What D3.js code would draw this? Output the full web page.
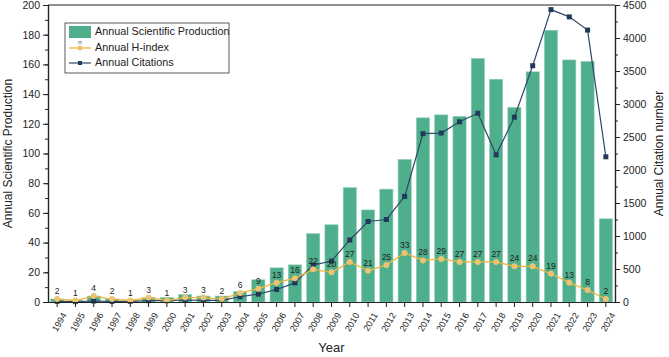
<!DOCTYPE html>
<html>
<head>
	<meta charset="utf-8">
	<title>Annual production</title>
	<script src="https://d3js.org/d3.v7.min.js"></script>
	<style>
		html, body { margin: 0; background: #fff; }
		svg text { font-family: Arial, "Liberation Sans", sans-serif; fill: #222; }
	</style>
</head>
<body>
	<svg id="svg"></svg>
	<script>
		const years = d3.range(1994, 2025).map(String);
		const production = [2, 1, 4, 2, 1, 3, 3, 5, 4, 4, 7, 15, 23, 25, 46, 52, 77, 62, 76, 96, 124, 126, 125, 164, 150, 131, 155, 183, 163, 162, 56];
		const hIndex = [2, 1, 4, 2, 1, 3, 1, 3, 3, 2, 6, 9, 13, 16, 22, 20, 27, 21, 25, 33, 28, 29, 27, 27, 27, 24, 24, 19, 13, 8, 2];
		const citations = [10, 5, 15, 10, 10, 20, 20, 30, 25, 25, 80, 120, 190, 290, 560, 620, 940, 1220, 1250, 1600, 2550, 2560, 2730, 2860, 2230, 2800, 3580, 4430, 4320, 4120, 2200];
		const leftTicks = d3.range(0, 201, 20);
		const rightTicks = d3.range(0, 4501, 500);

		const W = 669, H = 357;
		const m = { top: 5, left: 48, right: 54, bottom: 55 };
		const w = W - m.left - m.right;
		const h = H - m.top - m.bottom;

		const svg = d3.select("#svg").attr("width", W).attr("height", H);
		const g = svg.append("g").attr("transform", `translate(${m.left},${m.top})`);

		const x = d3.scaleBand().domain(years).range([0, w]).paddingInner(0.28).paddingOuter(0.14);
		const yL = d3.scaleLinear().domain([0, 200]).range([h, 0]);
		const yR = d3.scaleLinear().domain([0, 4500]).range([h, 0]);
		const cx = d => x(d) + x.bandwidth() / 2;

		const green = "#4fae8c", gold = "#f1b43a", goldDot = "#eac375", navy = "#2f4868", navyDot = "#213a5a";

		// bars
		g.selectAll(".bar").data(years).enter().append("rect")
			.attr("x", d => x(d))
			.attr("y", (d, i) => yL(production[i]))
			.attr("width", x.bandwidth())
			.attr("height", (d, i) => h - yL(production[i]))
			.attr("fill", green)
			.attr("stroke", "#8fd0b6").attr("stroke-width", 0.6);

		// citations line
		const lineC = d3.line().x(d => cx(d[0])).y(d => yR(d[1]));
		const cData = years.map((d, i) => [d, citations[i]]);
		g.append("path").attr("d", lineC(cData)).attr("fill", "none").attr("stroke", navy).attr("stroke-width", 1.2);
		g.selectAll(".cpt").data(cData).enter().append("rect")
			.attr("x", d => cx(d[0]) - 2.5).attr("y", d => yR(d[1]) - 2.5)
			.attr("width", 5).attr("height", 5).attr("fill", navyDot);

		// h-index line
		const hData = years.map((d, i) => [d, hIndex[i]]);
		const lineH = d3.line().x(d => cx(d[0])).y(d => yL(d[1]));
		g.append("path").attr("d", lineH(hData)).attr("fill", "none").attr("stroke", gold).attr("stroke-width", 1.3);
		g.selectAll(".hpt").data(hData).enter().append("circle")
			.attr("cx", d => cx(d[0])).attr("cy", d => yL(d[1])).attr("r", 3).attr("fill", goldDot);
		g.selectAll(".hlab").data(hData).enter().append("text")
			.attr("x", d => cx(d[0])).attr("y", d => yL(d[1]) - 5)
			.attr("text-anchor", "middle").attr("font-size", 8.5).text(d => d[1]);

		// axes
		const axisStyle = sel => {
			sel.selectAll("path").attr("stroke", "#222").attr("stroke-width", 1.2);
			sel.selectAll("line").attr("stroke", "#222").attr("stroke-width", 1);
			sel.selectAll("text").attr("font-size", 10.5);
		};
		const xAxis = g.append("g").attr("transform", `translate(0,${h})`)
			.call(d3.axisBottom(x).tickSize(5).tickSizeOuter(0)).call(axisStyle);
		xAxis.selectAll("text")
			.attr("font-size", 9)
			.attr("text-anchor", "end")
			.attr("dx", 0).attr("dy", 0)
			.attr("transform", "translate(3,9) rotate(-60)");

		g.append("g").call(d3.axisLeft(yL).tickValues(d3.range(0, 201, 10)).tickSize(3).tickFormat(""))
			.call(axisStyle);
		g.append("g").call(d3.axisLeft(yL).tickValues(leftTicks).tickSize(5).tickSizeOuter(0)).call(axisStyle);

		g.append("g").attr("transform", `translate(${w},0)`)
			.call(d3.axisRight(yR).tickValues(d3.range(0, 4501, 250)).tickSize(3).tickFormat("")).call(axisStyle);
		g.append("g").attr("transform", `translate(${w},0)`)
			.call(d3.axisRight(yR).tickValues(rightTicks).tickSize(5).tickSizeOuter(0).tickFormat(d3.format("d")))
			.call(axisStyle);

		g.append("line").attr("x1", 0).attr("x2", w).attr("y1", 0).attr("y2", 0)
			.attr("stroke", "#222").attr("stroke-width", 1.2);

		// axis titles
		svg.append("text").attr("transform", `translate(12,${m.top + h / 2}) rotate(-90)`)
			.attr("text-anchor", "middle").attr("font-size", 12).text("Annual Scientific Production");
		svg.append("text").attr("transform", `translate(${W - 6},${m.top + h / 2}) rotate(-90)`)
			.attr("text-anchor", "middle").attr("font-size", 12).text("Annual Citation number");
		svg.append("text").attr("x", m.left + w / 2).attr("y", 352)
			.attr("text-anchor", "middle").attr("font-size", 13).text("Year");

		// legend
		const lg = svg.append("g").attr("transform", "translate(65,23)");
		lg.append("rect").attr("width", 164).attr("height", 50).attr("fill", "#fff").attr("stroke", "#333").attr("stroke-width", 0.8);
		lg.append("rect").attr("x", 4).attr("y", 3).attr("width", 22).attr("height", 12).attr("fill", green);
		lg.append("line").attr("x1", 4).attr("x2", 26).attr("y1", 25).attr("y2", 25).attr("stroke", gold).attr("stroke-width", 1.3);
		lg.append("circle").attr("cx", 15).attr("cy", 25).attr("r", 2.5).attr("fill", goldDot);
		lg.append("text").attr("x", 15).attr("y", 21).attr("text-anchor", "middle").attr("font-size", 6).text("n");
		lg.append("line").attr("x1", 4).attr("x2", 26).attr("y1", 40).attr("y2", 40).attr("stroke", navy).attr("stroke-width", 1.2);
		lg.append("rect").attr("x", 13).attr("y", 38).attr("width", 4).attr("height", 4).attr("fill", navyDot);
		const names = ["Annual Scientific Production", "Annual H-index", "Annual Citations"];
		lg.selectAll(".lt").data(names).enter().append("text")
			.attr("x", 30).attr("y", (d, i) => 12 + i * 15.5)
			.attr("font-size", 10.8).text(d => d);
	</script>
</body>
</html>
